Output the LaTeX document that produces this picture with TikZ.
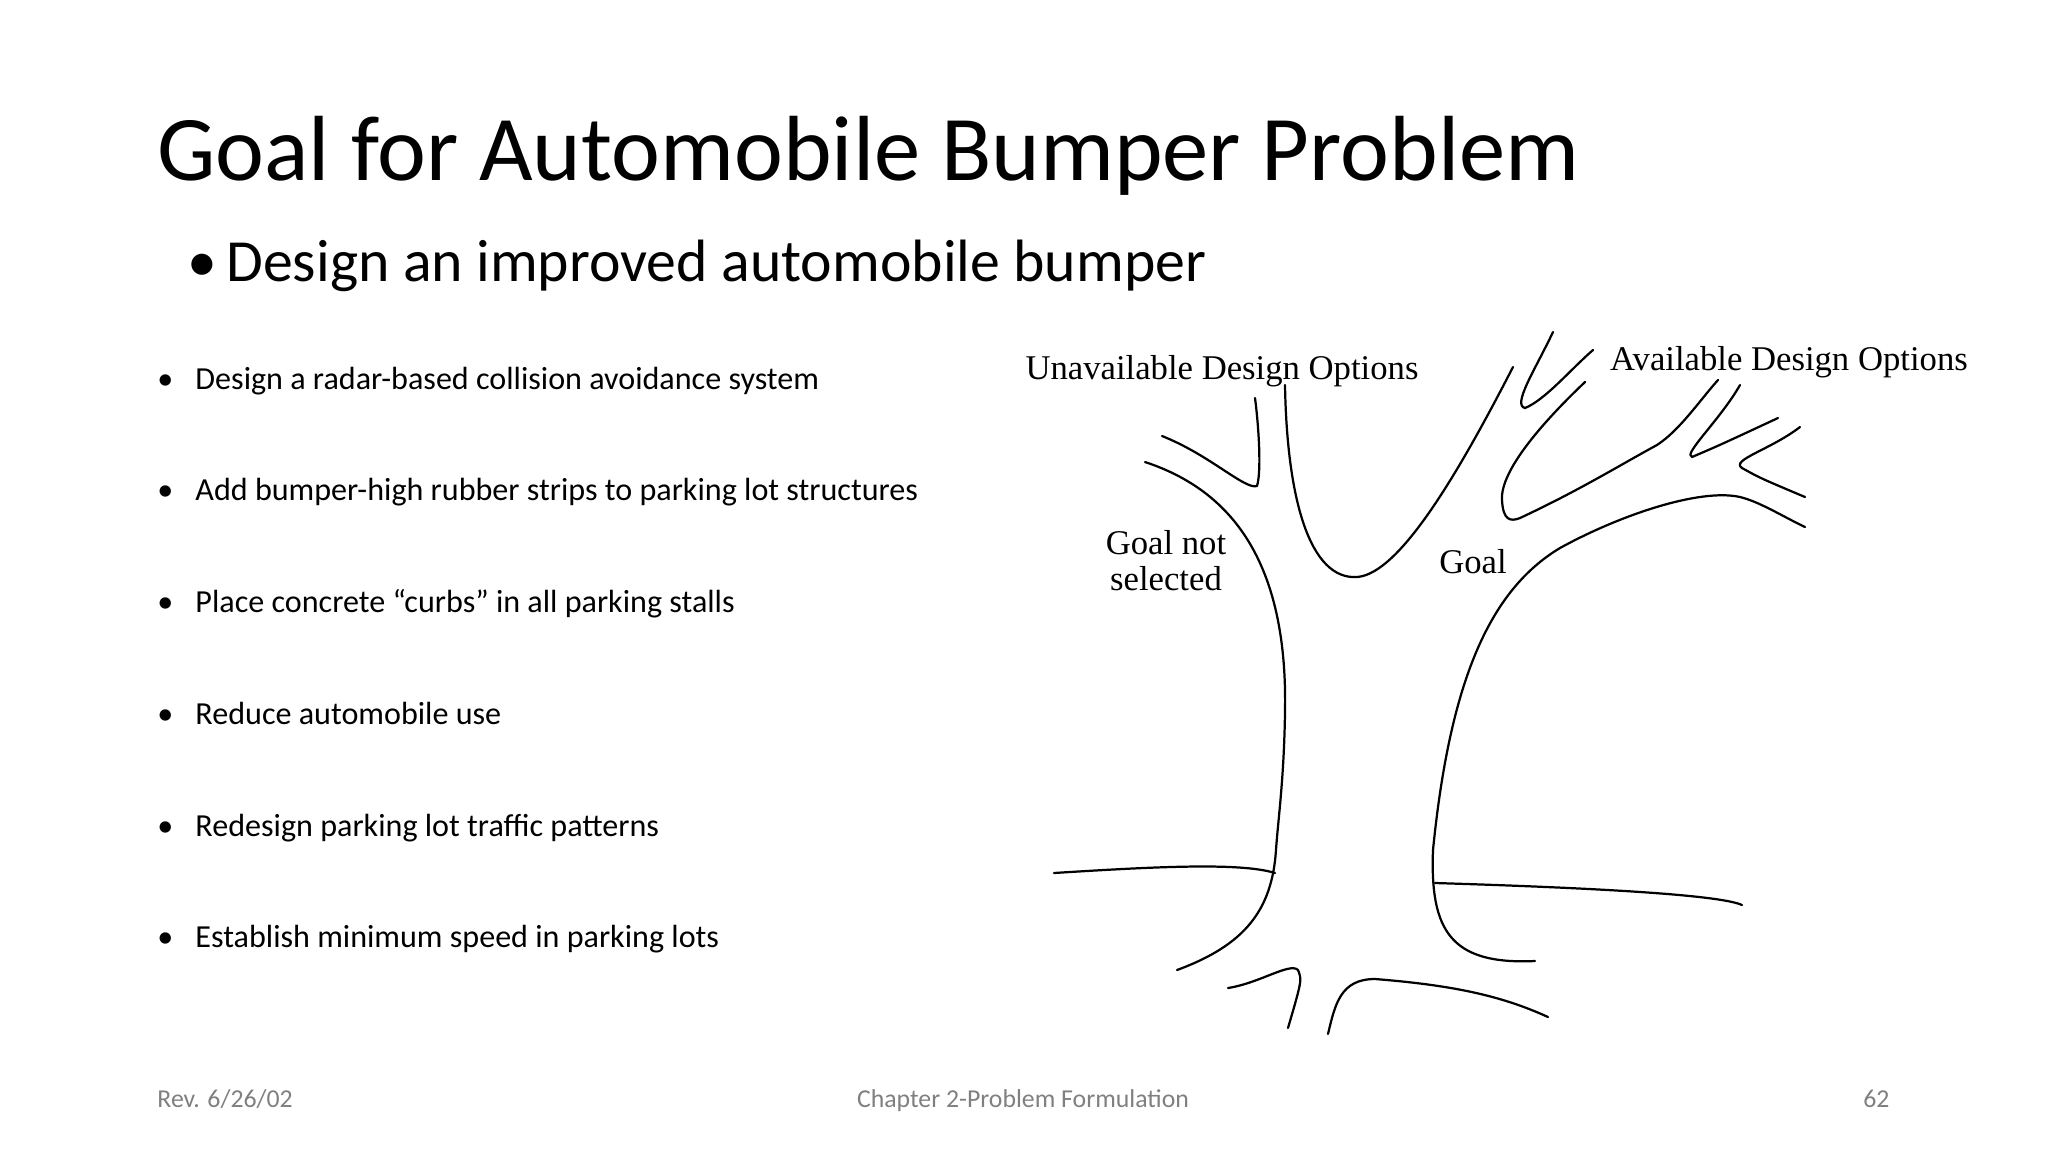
\documentclass[tikz,border=0pt]{standalone}
\usepackage{fontspec}
\setmainfont{Carlito}
\newfontfamily\tms{Liberation Serif}
\begin{document}
\begin{tikzpicture}[x=0.015cm,y=-0.015cm,
  tree/.style={line width=0.95pt,line cap=round,line join=round},
  bul/.style={anchor=base west,font=\fontsize{13.7}{16}\selectfont},
  lab/.style={anchor=base,font=\tms\fontsize{14.8}{15}\selectfont,align=center},
  foot/.style={anchor=base,font=\fontsize{11}{13}\selectfont,text=black!50}]
\useasboundingbox[fill=white] (0,0) rectangle (2048,1152);
\node[anchor=base west,inner sep=0,font=\fontsize{39.5}{42}\selectfont] (title) at (157,180) {Goal for Automobile Bumper Problem};
\node[anchor=base west,inner sep=0,font=\fontsize{25.5}{28}\selectfont] (subb) at (187,281) {\textbullet};
\node[anchor=base west,inner sep=0,font=\fontsize{25.5}{28}\selectfont] (sub) at (226,281) {Design an improved automobile bumper};
\foreach \y/\t [count=\i] in {389/Design a radar-based collision avoidance system,
  500/Add bumper-high rubber strips to parking lot structures,
  612/Place concrete “curbs” in all parking stalls,
  724/Reduce automobile use,
  836/Redesign parking lot traffic patterns,
  947/Establish minimum speed in parking lots}{
  \node[bul,inner sep=0] (b\i) at (157,\y) {\textbullet};
  \node[bul,inner sep=0] (t\i) at (195,\y) {\t};
}
\node[foot,anchor=base west,inner sep=0] (rev) at (157,1107) {Rev. 6/26/02};
\node[foot,inner sep=0] (chap) at (1023,1107) {Chapter 2-Problem Formulation};
\node[foot,anchor=base east,inner sep=0] (pg) at (1890,1107) {62};
\node[lab] (unav) at (1222,379) {Unavailable Design Options};
\node[lab] (av) at (1789,370) {Available Design Options};
\node[lab] (gns) at (1166,590) {Goal not\\selected};
\node[lab] (goal) at (1473,573) {Goal};
% tree
\draw[tree] (1145,462) .. controls (1230,490) and (1288,560) .. (1285,712) .. controls (1284,780) and (1278,820) .. (1276,850) .. controls (1272,910) and (1245,945) .. (1177,970);
\draw[tree] (1162,436) .. controls (1210,455) and (1245,490) .. (1257,486) .. controls (1262,470) and (1258,420) .. (1255,398);
\draw[tree] (1285,385) .. controls (1287,500) and (1310,580) .. (1357,577) .. controls (1400,574) and (1460,470) .. (1513,367);
\draw[tree] (1553,332) .. controls (1535,370) and (1512,405) .. (1525,408) .. controls (1545,400) and (1570,370) .. (1593,350);
\draw[tree] (1585,382) .. controls (1545,420) and (1500,470) .. (1502,500) .. controls (1503,520) and (1510,522) .. (1520,518) .. controls (1580,490) and (1620,465) .. (1657,445) .. controls (1680,430) and (1700,400) .. (1718,380);
\draw[tree] (1740,385) .. controls (1720,420) and (1682,455) .. (1692,457) .. controls (1720,445) .. (1778,418);
\draw[tree] (1800,427) .. controls (1770,450) and (1730,460) .. (1742,468) .. controls (1760,478) .. (1805,497);
\draw[tree] (1433,850) .. controls (1450,680) and (1490,590) .. (1560,548) .. controls (1620,515) and (1700,488) .. (1740,497) .. controls (1760,502) and (1780,515) .. (1805,527);
\draw[tree] (1433,850) .. controls (1430,930) and (1450,965) .. (1535,961);
\draw[tree] (1054,873) .. controls (1150,867) and (1240,862) .. (1275,873);
\draw[tree] (1435,883) .. controls (1600,888) and (1720,895) .. (1742,905);
\draw[tree] (1228,988) .. controls (1260,983) and (1290,962) .. (1298,970) .. controls (1302,980) .. (1288,1028);
\draw[tree] (1328,1034) .. controls (1335,1005) and (1340,979) .. (1375,979) .. controls (1450,985) and (1500,995) .. (1548,1017);
\end{tikzpicture}
\end{document}
